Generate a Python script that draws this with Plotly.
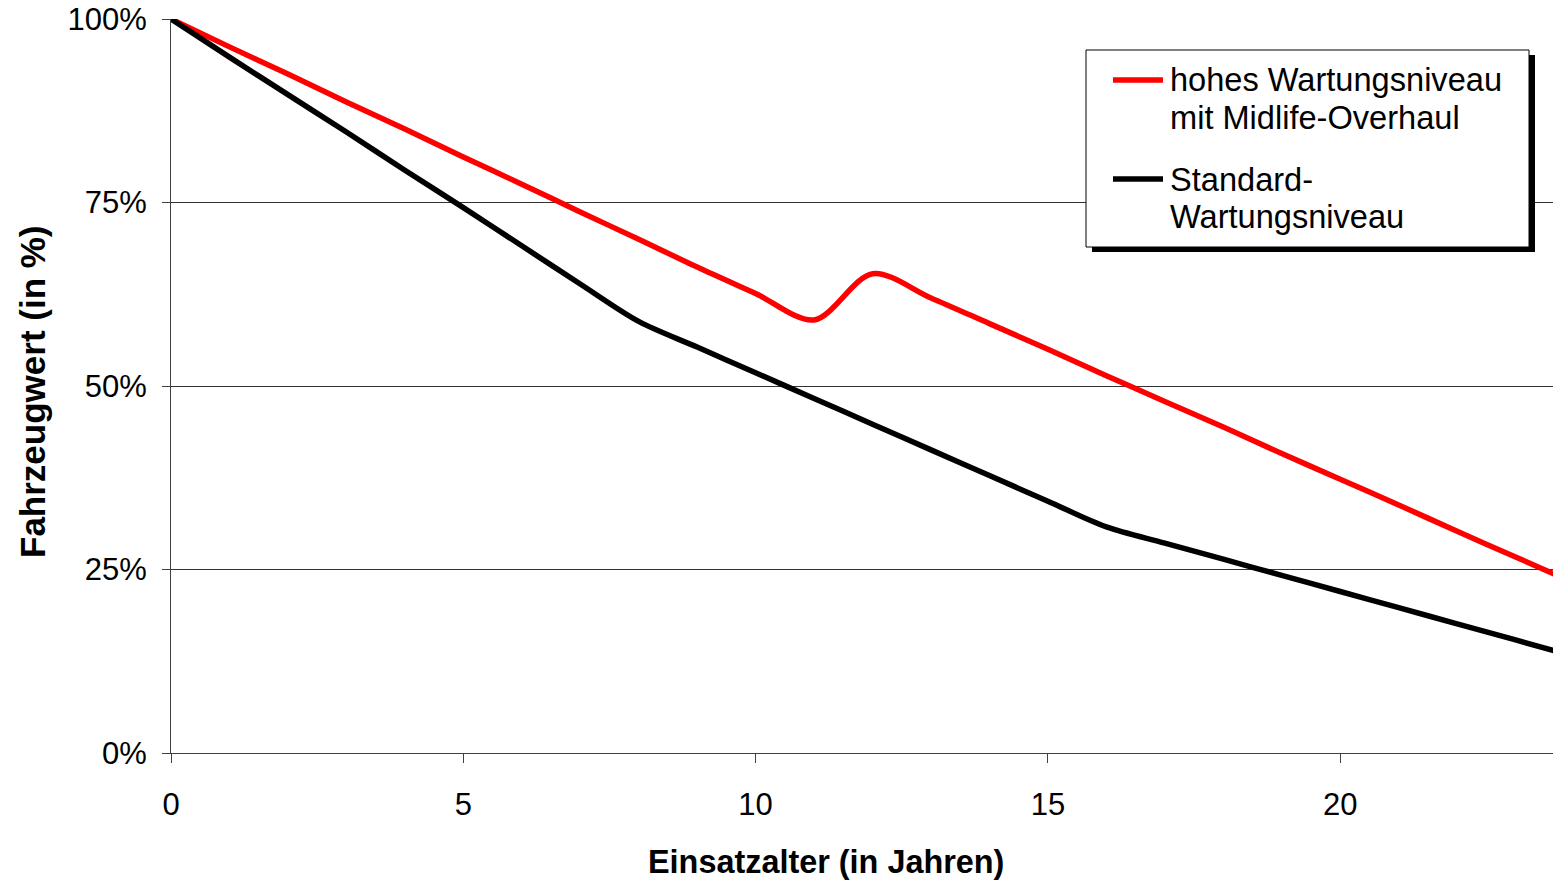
import plotly.graph_objects as go

# Vehicle value (% of new value) by operating age in years
years = list(range(0, 25))
value_high_maintenance = [100.0, 96.2, 92.5, 88.7, 85.0, 81.2, 77.5, 73.7, 70.0, 66.2,
                          62.6, 59.0, 65.3, 62.0, 58.5, 55.0, 51.4, 47.9, 44.4, 40.8,
                          37.3, 33.8, 30.2, 26.7, 23.2]
value_standard = [100.0, 94.8, 89.7, 84.6, 79.4, 74.3, 69.1, 63.9, 58.8, 55.3,
                  51.8, 48.3, 44.8, 41.3, 37.8, 34.3, 30.8, 28.6, 26.4, 24.2,
                  22.0, 19.8, 17.6, 15.4, 13.2]

series_names = [["hohes Wartungsniveau", "mit Midlife-Overhaul"],
                ["Standard-", "Wartungsniveau"]]
series_colors = ["#ff0000", "#000000"]

x_ticks = [0, 5, 10, 15, 20]
y_ticks = [0, 25, 50, 75, 100]
y_tick_labels = ["0%", "25%", "50%", "75%", "100%"]

x_title = "Einsatzalter (in Jahren)"
y_title = "Fahrzeugwert (in %)"

FONT = "Liberation Sans, Arial, sans-serif"
W, H = 1553, 881
ML, MR, MT, MB = 171, 0, 19, 128
PW, PH = W - ML - MR, H - MT - MB


def px_x(px):
    return (px - ML) / PW


def px_y(py):
    return (H - MB - py) / PH


fig = go.Figure()
for vals, names, col in zip([value_high_maintenance, value_standard], series_names, series_colors):
    fig.add_trace(go.Scatter(
        x=years, y=vals, mode="lines", name=" ".join(names),
        line=dict(color=col, width=5.5, shape="spline", smoothing=0.9),
        showlegend=False, hoverinfo="x+y",
    ))

# Boxed legend with drop shadow
shapes = [
    dict(type="rect", xref="paper", yref="paper",
         x0=px_x(1092), x1=px_x(1535), y0=px_y(252), y1=px_y(55),
         fillcolor="#000000", line=dict(width=0), layer="above"),
    dict(type="rect", xref="paper", yref="paper",
         x0=px_x(1086), x1=px_x(1529), y0=px_y(247), y1=px_y(50),
         fillcolor="#ffffff", line=dict(color="#000000", width=1), layer="above"),
]
annotations = []
entry_tops = [80, 179]
for names, col, ytop in zip(series_names, series_colors, entry_tops):
    shapes.append(dict(type="line", xref="paper", yref="paper",
                       x0=px_x(1113), x1=px_x(1163), y0=px_y(ytop), y1=px_y(ytop),
                       line=dict(color=col, width=5.5), layer="above"))
    for i, line_text in enumerate(names):
        annotations.append(dict(
            text=line_text, xref="paper", yref="paper",
            x=px_x(1168), y=px_y(ytop + 37.5 * i), xanchor="left", yanchor="middle",
            showarrow=False, font=dict(family=FONT, size=32.6, color="#000000"),
        ))

annotations.append(dict(
    text="<b>" + x_title + "</b>", xref="paper", yref="paper",
    x=px_x(826), y=px_y(862), xanchor="center", yanchor="middle",
    showarrow=False, font=dict(family=FONT, size=32.4, color="#000000"),
))
annotations.append(dict(
    text="<b>" + y_title + "</b>", xref="paper", yref="paper",
    x=px_x(32), y=px_y(392), xanchor="center", yanchor="middle", textangle=-90,
    showarrow=False, font=dict(family=FONT, size=35, color="#000000"),
))

fig.update_layout(
    width=W, height=H,
    margin=dict(l=ML, r=MR, t=MT, b=MB, pad=0),
    paper_bgcolor="#ffffff", plot_bgcolor="#ffffff",
    font=dict(family=FONT, color="#000000"),
    shapes=shapes, annotations=annotations,
    xaxis=dict(
        range=[0, 23.64], tickvals=x_ticks, ticks="outside", ticklen=9,
        tickcolor="#404040", tickwidth=1, showline=True, linecolor="#404040", linewidth=1,
        showgrid=False, zeroline=False, tickfont=dict(family=FONT, size=31),
        ticklabelstandoff=15,
    ),
    yaxis=dict(
        range=[0, 100], tickvals=y_ticks, ticktext=y_tick_labels, ticks="outside", ticklen=8,
        tickcolor="#404040", tickwidth=1, showline=True, linecolor="#404040", linewidth=1,
        showgrid=True, gridcolor="#333333", gridwidth=1, zeroline=False,
        tickfont=dict(family=FONT, size=31), ticklabelstandoff=9,
    ),
)

fig.write_html("out.html")
